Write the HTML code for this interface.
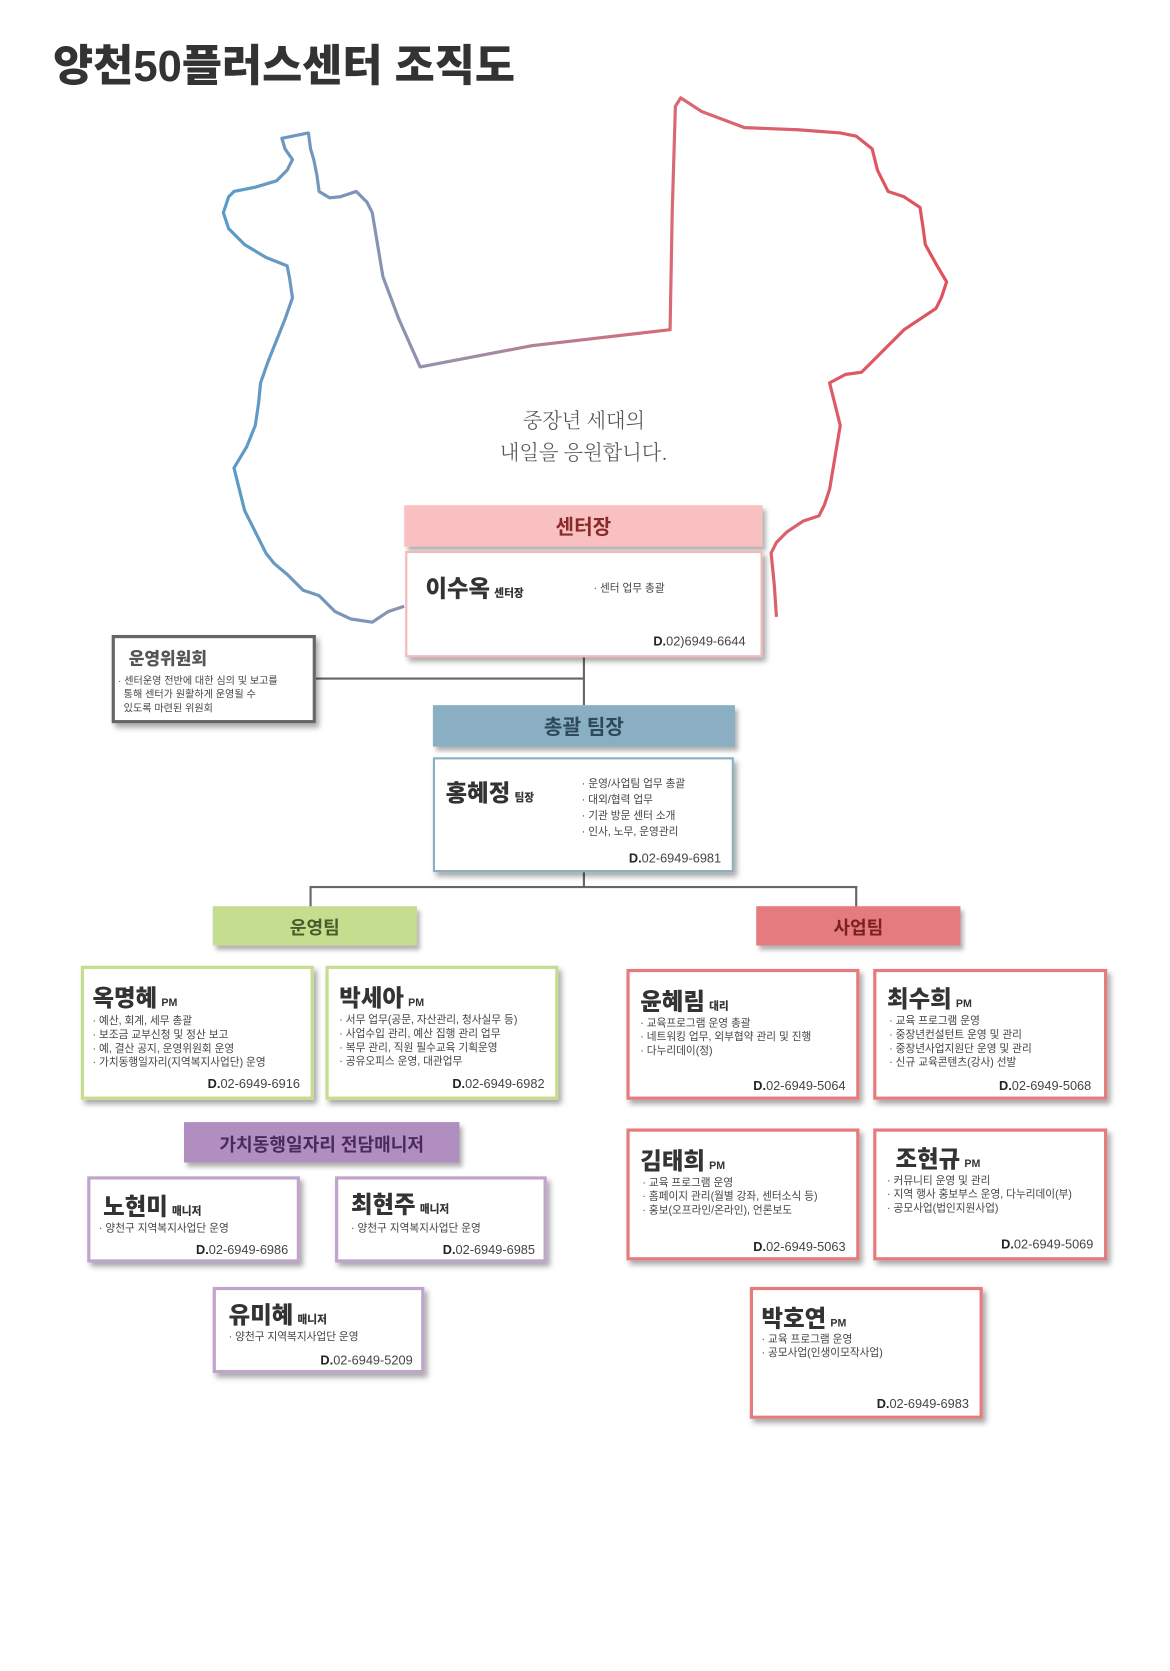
<!DOCTYPE html>
<html><head><meta charset="utf-8">
<style>
*{margin:0;padding:0;box-sizing:border-box}
body{width:1170px;height:1671px;background:#fff;overflow:hidden;font-family:"Liberation Sans","Noto Sans CJK KR",sans-serif;color:#333}
#w{position:absolute;left:0;top:0;width:1100px;height:1571px;transform:scale(1.0636);transform-origin:0 0}
.a{position:absolute}
.bar{position:absolute;display:flex;align-items:center;justify-content:center;font-weight:bold;font-size:19px;box-shadow:3px 4px 4px rgba(0,0,0,.3)}
.bx{position:absolute;background:#fff;box-shadow:3px 4px 5px rgba(0,0,0,.35)}
.nm{position:absolute;font-weight:900;font-size:22px;color:#333;white-space:nowrap}
.nm small{font-size:10px;font-weight:900;margin-left:4px}
.ds{position:absolute;font-size:10px;line-height:13px;color:#444;white-space:nowrap}
.ph{position:absolute;font-size:12px;color:#444;white-space:nowrap}
.ph b{color:#222}
.ln{position:absolute;background:#666}
</style></head><body><div id="w">
<div class="a" style="left:50px;top:28px;font-size:41px;font-weight:900;color:#333;letter-spacing:0px">양천50플러스센터 조직도</div>
<svg class="a" style="left:0;top:0" width="1100" height="1571">
<defs><linearGradient id="g" gradientUnits="userSpaceOnUse" x1="220" y1="0" x2="900" y2="0">
<stop offset="0" stop-color="#5b9bc8"/><stop offset="0.3" stop-color="#9a90aa"/><stop offset="0.6" stop-color="#d86a75"/><stop offset="1" stop-color="#e0505a"/></linearGradient></defs>
<polyline fill="none" stroke="url(#g)" stroke-width="3" stroke-linejoin="round" points="380,570 365,575 350,585 330,582 315,575 300,560 285,555 270,540 258,530 250,520 240,500 230,480 225,460 220,440 232,420 240,400 243,380 245,360 252,340 260,320 268,300 275,280 272,260 270,250 250,242 230,230 215,215 210,200 215,185 220,180 240,176 260,170 270,160 275,150 268,140 265,130 280,127 290,125 292,140 295,150 298,165 300,180 310,186 320,185 335,180 345,190 350,200 355,230 360,260 375,300 395,345 500,325 630,310 632,200 635,100 640,92 660,105 700,120 750,122 790,125 805,128 820,140 825,160 835,180 850,185 865,195 868,215 870,230 880,248 890,265 885,280 880,290 865,300 850,310 840,320 830,330 820,340 810,350 795,352 780,360 785,380 790,400 785,430 780,460 775,475 770,485 755,490 740,500 730,510 725,520 728,550 730,580"/>
</svg>
<div class="a" style="left:470px;top:380px;font-size:19px;line-height:30px;color:#555;text-align:center;font-family:'Noto Serif CJK SC','Noto Sans CJK KR',serif;font-weight:300">중장년 세대의<br>내일을 응원합니다.</div>

<div class="ln" style="left:548px;top:618px;width:2px;height:45px"></div>
<div class="ln" style="left:297px;top:637px;width:252px;height:2px"></div>
<div class="ln" style="left:548px;top:820px;width:2px;height:14px"></div>
<div class="ln" style="left:291px;top:833px;width:515px;height:2px"></div>
<div class="ln" style="left:291px;top:833px;width:2px;height:20px"></div>
<div class="ln" style="left:804px;top:833px;width:2px;height:20px"></div>

<div class="bar" style="left:380px;top:475px;width:337px;height:39px;background:#f9c0c2;color:#8b2a2a">센터장</div>
<div class="bx" style="left:381px;top:518px;width:336px;height:100px;border:2px solid #f4b8ba">
<div class="nm" style="left:17px;top:16px">이수옥<small>센터장</small></div>
<div class="ds" style="left:175px;top:27px">· 센터 업무 총괄</div>
<div class="ph" style="right:14px;top:76px"><b>D.</b>02)6949-6644</div></div>

<div class="bx" style="left:105px;top:597px;width:192px;height:83px;border:3px solid #666">
<div class="a" style="left:13px;top:6px;font-size:16px;font-weight:900;color:#555">운영위원회</div>
<div class="ds" style="left:3px;top:34px;font-size:9.5px">· 센터운영 전반에 대한 심의 및 보고를<br>&nbsp;&nbsp;통해 센터가 원활하게 운영될 수<br>&nbsp;&nbsp;있도록 마련된 위원회</div></div>

<div class="bar" style="left:407px;top:663px;width:284px;height:39px;background:#8aafc3;color:#2d4a5a">총괄 팀장</div>
<div class="bx" style="left:407px;top:712px;width:283px;height:108px;border:2px solid #8aafc3">
<div class="nm" style="left:10px;top:14px">홍혜정<small>팀장</small></div>
<div class="ds" style="left:138px;top:16px;line-height:15px">· 운영/사업팀 업무 총괄<br>· 대외/협력 업무<br>· 기관 방문 센터 소개<br>· 인사, 노무, 운영관리</div>
<div class="ph" style="right:10px;top:86px"><b>D.</b>02-6949-6981</div></div>

<div class="bar" style="left:200px;top:852px;width:192px;height:37px;background:#c5dd8f;color:#4a5a2a;font-size:17px">운영팀</div>
<div class="bar" style="left:711px;top:852px;width:192px;height:37px;background:#e57b7c;color:#7a2020;font-size:17px">사업팀</div>

<div class="bx" style="left:76px;top:908px;width:219px;height:126px;border:3px solid #c5dd8f">
<div class="nm" style="left:8px;top:10px">옥명혜<small>PM</small></div>
<div class="ds" style="left:8px;top:43px">· 예산, 회계, 세무 총괄<br>· 보조금 교부신청 및 정산 보고<br>· 예, 결산 공지, 운영위원회 운영<br>· 가치동행일자리(지역복지사업단) 운영</div>
<div class="ph" style="right:10px;top:101px"><b>D.</b>02-6949-6916</div></div>
<div class="bx" style="left:306px;top:908px;width:219px;height:126px;border:3px solid #c5dd8f">
<div class="nm" style="left:10px;top:10px">박세아<small>PM</small></div>
<div class="ds" style="left:10px;top:42px">· 서무 업무(공문, 자산관리, 청사실무 등)<br>· 사업수입 관리, 예산 집행 관리 업무<br>· 복무 관리, 직원 필수교육 기획운영<br>· 공유오피스 운영, 대관업무</div>
<div class="ph" style="right:10px;top:101px"><b>D.</b>02-6949-6982</div></div>

<div class="bar" style="left:173px;top:1055px;width:259px;height:38px;background:#b08ec0;color:#4a2a5a;font-size:17px">가치동행일자리 전담매니저</div>
<div class="bx" style="left:82px;top:1106px;width:200px;height:81px;border:3px solid #c0a4cc">
<div class="nm" style="left:12px;top:8px">노현미<small>매니저</small></div>
<div class="ds" style="left:8px;top:40px">· 양천구 지역복지사업단 운영</div>
<div class="ph" style="right:8px;top:59px"><b>D.</b>02-6949-6986</div></div>
<div class="bx" style="left:315px;top:1106px;width:199px;height:81px;border:3px solid #c0a4cc">
<div class="nm" style="left:12px;top:6px">최현주<small>매니저</small></div>
<div class="ds" style="left:12px;top:40px">· 양천구 지역복지사업단 운영</div>
<div class="ph" style="right:8px;top:59px"><b>D.</b>02-6949-6985</div></div>
<div class="bx" style="left:200px;top:1210px;width:199px;height:81px;border:3px solid #c0a4cc">
<div class="nm" style="left:12px;top:6px">유미혜<small>매니저</small></div>
<div class="ds" style="left:12px;top:38px">· 양천구 지역복지사업단 운영</div>
<div class="ph" style="right:8px;top:59px"><b>D.</b>02-6949-5209</div></div>

<div class="bx" style="left:589px;top:911px;width:219px;height:123px;border:3px solid #e57b7c">
<div class="nm" style="left:10px;top:10px">윤혜림<small>대리</small></div>
<div class="ds" style="left:10px;top:42px">· 교육프로그램 운영 총괄<br>· 네트워킹 업무, 외부협약 관리 및 진행<br>· 다누리데이(정)</div>
<div class="ph" style="right:10px;top:100px"><b>D.</b>02-6949-5064</div></div>
<div class="bx" style="left:821px;top:911px;width:220px;height:123px;border:3px solid #e57b7c">
<div class="nm" style="left:10px;top:8px">최수희<small>PM</small></div>
<div class="ds" style="left:12px;top:40px">· 교육 프로그램 운영<br>· 중장년컨설턴트 운영 및 관리<br>· 중장년사업지원단 운영 및 관리<br>· 신규 교육콘텐츠(강사) 선발</div>
<div class="ph" style="right:12px;top:100px"><b>D.</b>02-6949-5068</div></div>
<div class="bx" style="left:589px;top:1061px;width:219px;height:124px;border:3px solid #e57b7c">
<div class="nm" style="left:10px;top:10px">김태희<small>PM</small></div>
<div class="ds" style="left:12px;top:42px">· 교육 프로그램 운영<br>· 홈페이지 관리(월별 강좌, 센터소식 등)<br>· 홍보(오프라인/온라인), 언론보도</div>
<div class="ph" style="right:10px;top:101px"><b>D.</b>02-6949-5063</div></div>
<div class="bx" style="left:821px;top:1061px;width:220px;height:124px;border:3px solid #e57b7c">
<div class="nm" style="left:18px;top:8px">조현규<small>PM</small></div>
<div class="ds" style="left:10px;top:40px">· 커뮤니티 운영 및 관리<br>· 지역 행사 홍보부스 운영, 다누리데이(부)<br>· 공모사업(법인지원사업)</div>
<div class="ph" style="right:10px;top:99px"><b>D.</b>02-6949-5069</div></div>
<div class="bx" style="left:705px;top:1210px;width:219px;height:124px;border:3px solid #e57b7c">
<div class="nm" style="left:8px;top:9px">박호연<small>PM</small></div>
<div class="ds" style="left:8px;top:40px">· 교육 프로그램 운영<br>· 공모사업(인생이모작사업)</div>
<div class="ph" style="right:10px;top:100px"><b>D.</b>02-6949-6983</div></div>
</div></body></html>
